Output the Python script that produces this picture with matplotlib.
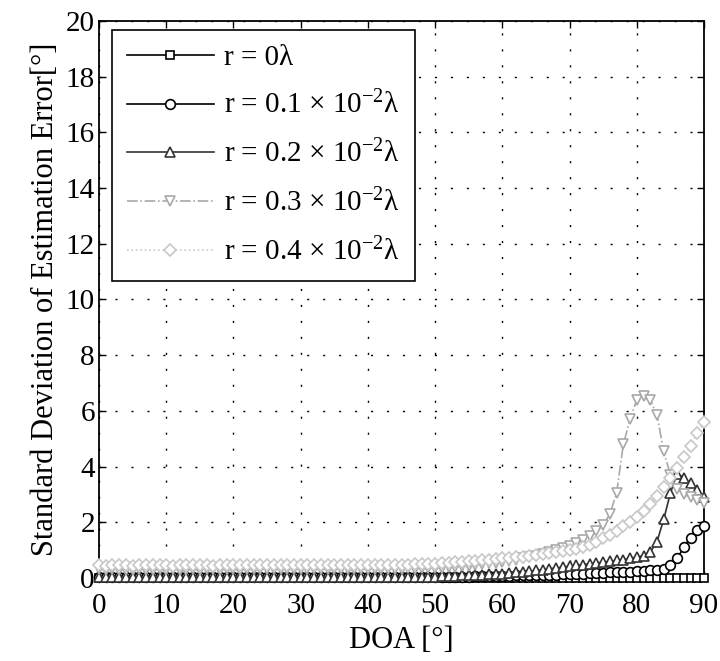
import numpy as np
import matplotlib
matplotlib.use("Agg")
import matplotlib.pyplot as plt

# -------------------------------------------------------
# Data
# -------------------------------------------------------
doa = list(range(0, 91))

err_r0 = [
    0.00, 0.00, 0.00, 0.00, 0.00, 0.00, 0.00, 0.00, 0.00, 0.00,
    0.00, 0.00, 0.00, 0.00, 0.00, 0.00, 0.00, 0.00, 0.00, 0.00,
    0.00, 0.00, 0.00, 0.00, 0.00, 0.00, 0.00, 0.00, 0.00, 0.00,
    0.00, 0.00, 0.00, 0.00, 0.00, 0.00, 0.00, 0.00, 0.00, 0.00,
    0.00, 0.00, 0.00, 0.00, 0.00, 0.00, 0.00, 0.00, 0.00, 0.00,
    0.00, 0.00, 0.00, 0.00, 0.00, 0.00, 0.00, 0.00, 0.00, 0.00,
    0.00, 0.00, 0.00, 0.00, 0.00, 0.00, 0.00, 0.00, 0.00, 0.00,
    0.00, 0.00, 0.00, 0.00, 0.00, 0.00, 0.00, 0.00, 0.00, 0.00,
    0.00, 0.00, 0.00, 0.00, 0.00, 0.00, 0.00, 0.00, 0.00, 0.00,
    0.00,
]

err_r01 = [
    0.02, 0.02, 0.02, 0.02, 0.02, 0.02, 0.02, 0.02, 0.02, 0.02,
    0.02, 0.02, 0.02, 0.02, 0.02, 0.02, 0.02, 0.02, 0.02, 0.02,
    0.02, 0.02, 0.02, 0.02, 0.02, 0.02, 0.02, 0.02, 0.02, 0.02,
    0.03, 0.03, 0.03, 0.03, 0.03, 0.03, 0.03, 0.03, 0.03, 0.03,
    0.03, 0.03, 0.03, 0.03, 0.03, 0.03, 0.03, 0.03, 0.03, 0.03,
    0.04, 0.04, 0.04, 0.05, 0.05, 0.05, 0.06, 0.06, 0.07, 0.07,
    0.08, 0.08, 0.09, 0.09, 0.10, 0.10, 0.11, 0.12, 0.12, 0.13,
    0.14, 0.15, 0.16, 0.17, 0.18, 0.19, 0.20, 0.21, 0.22, 0.23,
    0.24, 0.25, 0.27, 0.29, 0.32, 0.45, 0.70, 1.10, 1.45, 1.72,
    1.85,
]

err_r02 = [
    0.02, 0.02, 0.02, 0.02, 0.02, 0.02, 0.02, 0.02, 0.02, 0.02,
    0.02, 0.02, 0.02, 0.02, 0.02, 0.02, 0.02, 0.02, 0.02, 0.02,
    0.02, 0.02, 0.02, 0.02, 0.02, 0.02, 0.02, 0.02, 0.02, 0.02,
    0.02, 0.02, 0.02, 0.03, 0.03, 0.03, 0.03, 0.03, 0.03, 0.03,
    0.03, 0.03, 0.03, 0.03, 0.03, 0.04, 0.04, 0.04, 0.04, 0.04,
    0.05, 0.06, 0.07, 0.08, 0.09, 0.10, 0.11, 0.12, 0.13, 0.14,
    0.16, 0.18, 0.20, 0.22, 0.24, 0.27, 0.30, 0.33, 0.36, 0.39,
    0.42, 0.45, 0.48, 0.51, 0.54, 0.57, 0.60, 0.63, 0.66, 0.70,
    0.75, 0.80, 0.93, 1.30, 2.10, 3.05, 3.75, 3.60, 3.40, 3.15,
    2.90,
]

err_r03 = [
    0.32, 0.30, 0.31, 0.30, 0.29, 0.30, 0.31, 0.30, 0.30, 0.31,
    0.30, 0.31, 0.30, 0.30, 0.31, 0.30, 0.31, 0.31, 0.30, 0.31,
    0.31, 0.30, 0.31, 0.31, 0.31, 0.32, 0.31, 0.31, 0.32, 0.31,
    0.32, 0.32, 0.31, 0.32, 0.32, 0.32, 0.33, 0.32, 0.33, 0.33,
    0.33, 0.33, 0.34, 0.33, 0.34, 0.34, 0.35, 0.34, 0.35, 0.35,
    0.36, 0.37, 0.39, 0.40, 0.42, 0.44, 0.46, 0.49, 0.52, 0.55,
    0.58, 0.62, 0.66, 0.70, 0.75, 0.80, 0.86, 0.92, 0.99, 1.07,
    1.16, 1.26, 1.38, 1.52, 1.70, 1.90, 2.30, 3.05, 4.80, 5.70,
    6.40, 6.55, 6.40, 5.85, 4.55, 3.70, 3.20, 3.00, 2.90, 2.80,
    2.70,
]

err_r04 = [
    0.45, 0.44, 0.45, 0.46, 0.45, 0.44, 0.45, 0.45, 0.46, 0.45,
    0.45, 0.44, 0.45, 0.45, 0.46, 0.45, 0.45, 0.44, 0.45, 0.46,
    0.45, 0.45, 0.46, 0.45, 0.45, 0.46, 0.45, 0.46, 0.46, 0.45,
    0.46, 0.46, 0.45, 0.46, 0.46, 0.47, 0.46, 0.46, 0.47, 0.47,
    0.47, 0.47, 0.48, 0.47, 0.48, 0.48, 0.48, 0.49, 0.49, 0.49,
    0.50, 0.52, 0.54, 0.56, 0.58, 0.60, 0.62, 0.64, 0.66, 0.68,
    0.70, 0.72, 0.74, 0.76, 0.79, 0.82, 0.85, 0.88, 0.92, 0.96,
    1.00, 1.05, 1.10, 1.20, 1.30, 1.42, 1.55, 1.70, 1.85, 2.00,
    2.20, 2.40, 2.65, 2.95, 3.25, 3.60, 3.95, 4.35, 4.75, 5.20,
    5.60,
]

labels = [
    "r = 0λ",
    r"r = 0.1 × 10$^{\mathregular{-2}}$λ",
    r"r = 0.2 × 10$^{\mathregular{-2}}$λ",
    r"r = 0.3 × 10$^{\mathregular{-2}}$λ",
    r"r = 0.4 × 10$^{\mathregular{-2}}$λ",
]

series = [err_r0, err_r01, err_r02, err_r03, err_r04]
markers = ["s", "o", "^", "v", "D"]
msizes = [5.5, 7, 7.5, 7.5, 6]
colors = ["#000000", "#000000", "#333333", "#a8a8a8", "#c8c8c8"]
styles = ["-", "-", "-", "-.", ":"]

# -------------------------------------------------------
# Style
# -------------------------------------------------------
plt.rcParams["font.family"] = ["Liberation Serif", "DejaVu Serif"]
plt.rcParams["mathtext.fontset"] = "custom"
plt.rcParams["mathtext.rm"] = "Liberation Serif"
plt.rcParams["mathtext.it"] = "Liberation Serif:italic"

fig = plt.figure(figsize=(7.2, 6.61), dpi=100)
ax = fig.add_axes([0.1375, 0.1256, 0.8403, 0.8427])

for y, lab, m, ms, c, ls in zip(series, labels, markers, msizes, colors, styles):
    ax.plot(
        doa, y,
        linestyle=ls, color=c, linewidth=1.2,
        marker=m, markersize=ms,
        markerfacecolor="white", markeredgecolor=c, markeredgewidth=1.2,
        label=lab, clip_on=False, zorder=3
    )

ax.set_xlim(0, 90)
ax.set_ylim(0, 20)
ax.set_xticks(np.arange(0, 91, 10))
ax.set_yticks(np.arange(0, 21, 2))

ax.grid(True, color="black", linestyle=(0, (1.5, 10)), linewidth=1.0)
ax.tick_params(direction="in", length=5, width=1, labelsize=21,
               top=True, right=True)
ax.tick_params(axis="y", pad=3)
ax.tick_params(axis="x", pad=11)
for sp in ax.spines.values():
    sp.set_linewidth(1.3)
    sp.set_zorder(2)

ax.set_xlabel("DOA [°]", fontsize=22, labelpad=5)
ax.set_ylabel("Standard Deviation of Estimation Error[°]", fontsize=22,
              labelpad=4)

leg = ax.legend(
    loc="upper left", bbox_to_anchor=(0.0215, 0.984), borderaxespad=0,
    fontsize=21, numpoints=1, handlelength=3.0, handletextpad=0.35,
    labelspacing=0.7, borderpad=0.5, fancybox=False, framealpha=1,
    edgecolor="black"
)
leg.get_frame().set_linewidth(1.2)
leg.set_zorder(5)

fig.savefig("out.png", dpi=100)
